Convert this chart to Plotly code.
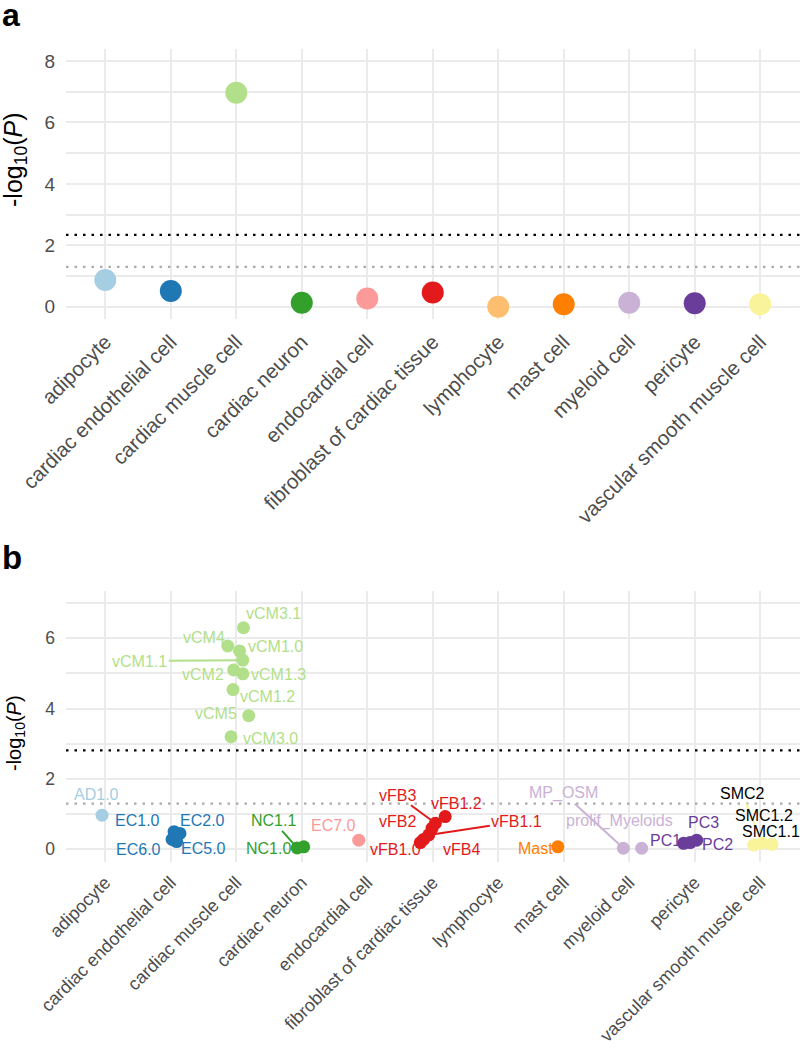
import plotly.graph_objects as go

# ---------------- data ----------------
cell_types = ["adipocyte", "cardiac endothelial cell", "cardiac muscle cell", "cardiac neuron",
              "endocardial cell", "fibroblast of cardiac tissue", "lymphocyte", "mast cell",
              "myeloid cell", "pericyte", "vascular smooth muscle cell"]
type_colors = ["#A6CEE3", "#1F78B4", "#B2DF8A", "#33A02C", "#FB9A99", "#E31A1C",
               "#FDBF6F", "#FF7F00", "#CAB2D6", "#6A3D9A", "#F9F39A"]
label_colors = ["#A6CEE3", "#1F78B4", "#B2DF8A", "#33A02C", "#FB9A99", "#E31A1C",
                "#FDBF6F", "#FF7F00", "#CAB2D6", "#6A3D9A", "#000000"]

# panel a: -log10(P) per cell type
a_values = [0.87, 0.51, 6.97, 0.13, 0.27, 0.46, 0.00, 0.08, 0.13, 0.11, 0.08]
a_bonferroni = 2.34
nominal = 1.30

# panel b: sub-clusters
b_names = ["AD1.0", "EC1.0", "EC2.0", "EC6.0", "EC5.0",
           "vCM3.1", "vCM4", "vCM1.0", "vCM1.1", "vCM2", "vCM1.3", "vCM1.2", "vCM5", "vCM3.0",
           "NC1.1", "NC1.0", "EC7.0",
           "vFB1.2", "vFB3", "vFB2", "vFB1.1", "vFB4", "vFB1.0",
           "Mast", "MP_OSM", "prolif_Myeloids", "PC1", "PC2", "PC3",
           "SMC2", "SMC1.2", "SMC1.1"]
b_type = [0, 1, 1, 1, 1,
          2, 2, 2, 2, 2, 2, 2, 2, 2,
          3, 3, 4,
          5, 5, 5, 5, 5, 5,
          7, 8, 8, 9, 9, 9,
          10, 10, 10]
b_values = [0.97, 0.50, 0.45, 0.28, 0.22,
            6.30, 5.78, 5.64, 5.38, 5.10, 4.99, 4.54, 3.80, 3.20,
            0.04, 0.07, 0.26,
            0.93, 0.74, 0.60, 0.41, 0.28, 0.19,
            0.07, 0.03, 0.03, 0.17, 0.19, 0.26,
            0.17, 0.12, 0.14]
b_jitter = [-0.05, 0.05, 0.14, 0.02, 0.09,
            0.11, -0.13, 0.05, 0.10, -0.04, 0.10, -0.05, 0.19, -0.08,
            -0.07, 0.03, -0.13,
            0.19, 0.04, -0.01, -0.06, -0.14, -0.19,
            -0.09, -0.09, 0.19, -0.17, -0.07, 0.03,
            0.03, -0.10, 0.18]
b_bonferroni = 2.81

# label placement (pixel offsets from point) and whether a repel segment is drawn
lab_dx = [-6, -37, 23, -34, 27,
          30, -24, 36, -103, -31, 36, 34, -33, 39,
          -24, -35, -25,
          11, -38, -35, 88, 38, -25,
          -22, -60, -22, -18, 27, 7,
          -20, 10, -1]
lab_dy = [-21, -11, -13, 10, 7,
          -14, -9, -4, 1, 5, 1, 7, -2, 2,
          -27, 2, -15,
          -13, -28, -7, -13, 10, 7,
          2, -55, -27, -3, 2, -18,
          -50, -30, -13]
lab_seg = [False, False, False, False, False,
           False, False, False, True, False, False, False, False, False,
           True, False, False,
           False, True, False, True, False, False,
           False, True, False, False, False, False,
           True, False, False]

# ---------------- figure ----------------
FONT = "Liberation Sans, Arial, Helvetica, sans-serif"
GRID = "#EBEBEB"
TICKC = "#4D4D4D"
H = 1059.0
W = 800.0

fig = go.Figure()

fig.add_trace(go.Scatter(
    x=list(range(len(cell_types))), y=a_values, mode="markers",
    marker=dict(size=22, color=type_colors, line=dict(width=0)),
    xaxis="x", yaxis="y", showlegend=False, hoverinfo="skip"))

bx = [t + j for t, j in zip(b_type, b_jitter)]
fig.add_trace(go.Scatter(
    x=bx, y=b_values, mode="markers",
    marker=dict(size=13, color=[type_colors[t] for t in b_type], line=dict(width=0)),
    xaxis="x2", yaxis="y2", showlegend=False, hoverinfo="skip"))

# threshold lines
for yref, xref, val, col in [("y", "x", a_bonferroni, "#000000"), ("y", "x", nominal, "#AAAAAA"),
                             ("y2", "x2", b_bonferroni, "#000000"), ("y2", "x2", nominal, "#AAAAAA")]:
    fig.add_shape(type="line", xref=xref + " domain", yref=yref, x0=0, x1=1, y0=val, y1=val,
                  line=dict(color=col, width=2.2, dash="2.5px,6px"), layer="above")

# labels
for i, name in enumerate(b_names):
    t = b_type[i]
    common = dict(x=bx[i], y=b_values[i], xref="x2", yref="y2", text=name,
                  font=dict(family=FONT, size=16, color=label_colors[t]))
    if lab_seg[i]:
        fig.add_annotation(**common, showarrow=True, ax=lab_dx[i], ay=lab_dy[i],
                           arrowhead=0, arrowwidth=2, arrowcolor=type_colors[t], standoff=5)
    else:
        fig.add_annotation(**common, showarrow=False, xshift=lab_dx[i], yshift=-lab_dy[i],
                           xanchor="center", yanchor="middle")

# panel letters and axis titles
fig.add_annotation(x=0.0, y=1 + 5 / H, xref="paper", yref="paper", text="<b>a</b>", showarrow=False,
                   xanchor="left", yanchor="top", font=dict(family=FONT, size=32, color="black"))
fig.add_annotation(x=0.0, y=1 - 537 / H, xref="paper", yref="paper", text="<b>b</b>", showarrow=False,
                   xanchor="left", yanchor="top", font=dict(family=FONT, size=33, color="black"))
for yc, fs in [(160, 25), (733, 20)]:
    fig.add_annotation(x=15 / W, y=1 - yc / H, xref="paper", yref="paper",
                       text="-log<sub>10</sub>(<i>P</i>)", showarrow=False, textangle=-90,
                       xanchor="center", yanchor="middle",
                       font=dict(family=FONT, size=fs, color="black"))

xaxis_common = dict(range=[-0.6, 10.6], tickmode="array", tickvals=list(range(len(cell_types))),
                    ticktext=cell_types, tickangle=-45, showgrid=True, gridcolor=GRID, gridwidth=2,
                    zeroline=False, showline=False, ticks="", automargin=False,
                    ticklabelstandoff=6, domain=[66 / W, 799.5 / W])
yaxis_common = dict(showgrid=True, gridcolor=GRID, gridwidth=2, zeroline=False, showline=False,
                    ticks="", automargin=False, tick0=0, dtick=2, ticklabelstandoff=10,
                    minor=dict(dtick=1, tick0=0, showgrid=True, gridcolor=GRID, gridwidth=1.5))

fig.update_layout(
    width=800, height=1059, margin=dict(l=0, r=0, t=0, b=0),
    paper_bgcolor="white", plot_bgcolor="white",
    xaxis=dict(**xaxis_common, anchor="y", tickfont=dict(family=FONT, size=20.5, color=TICKC)),
    yaxis=dict(**yaxis_common, range=[-0.4, 8.4], domain=[1 - 319 / H, 1 - 48.8 / H], anchor="x",
               tickfont=dict(family=FONT, size=19, color=TICKC)),
    xaxis2=dict(**xaxis_common, anchor="y2", tickfont=dict(family=FONT, size=18, color=TICKC)),
    yaxis2=dict(**yaxis_common, range=[-0.35, 7.35], domain=[1 - 861.6 / H, 1 - 590.8 / H], anchor="x2",
                tickfont=dict(family=FONT, size=17.5, color=TICKC)),
)

fig.write_html("out.html")
